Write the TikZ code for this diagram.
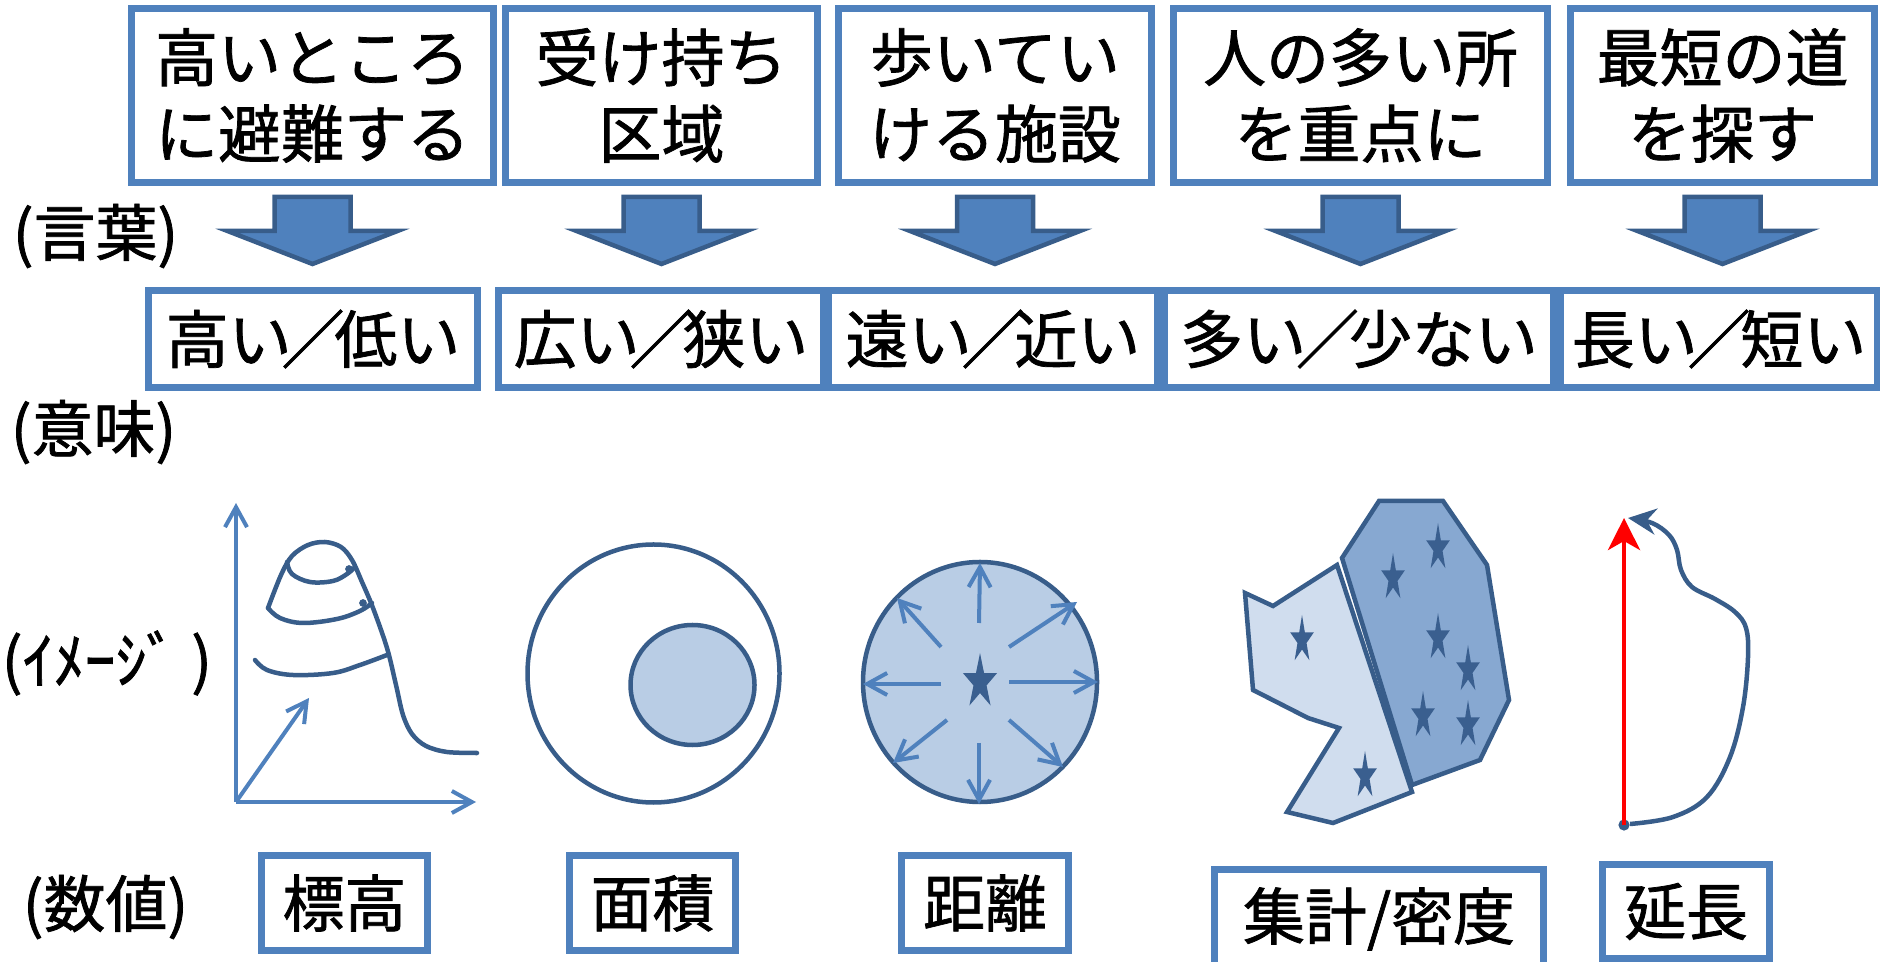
\documentclass[tikz,border=0pt]{standalone}
\usepackage{fontspec}
\setmainfont{Noto Sans CJK JP}[FakeBold=1.2]
\usetikzlibrary{arrows.meta,calc}

\definecolor{boxblue}{HTML}{4F81BD}
\definecolor{accent}{HTML}{4F81BD}
\definecolor{lineblue}{HTML}{385D8A}
\definecolor{paleblue}{HTML}{B9CDE5}
\definecolor{lightblue}{HTML}{D0DDEE}
\definecolor{midblue}{HTML}{87A8D1}
\definecolor{starblue}{HTML}{3A5F8F}

% a tall slash set a little tighter than the full-width one
\newcommand\tightslash{\kern-0.16em／\kern-0.16em}

\tikzset{
  wordbox/.style={draw=boxblue, line width=0.07cm, inner sep=0pt, align=center,
    font=\fontsize{17.9pt}{21.7pt}\selectfont},
  meanbox/.style={draw=boxblue, line width=0.07cm, inner sep=0pt,
    minimum height=0.96cm, font=\fontsize{17.9pt}{20pt}\selectfont},
  valbox/.style={draw=boxblue, line width=0.07cm, inner sep=0pt,
    minimum height=0.94cm, font=\fontsize{17.6pt}{20pt}\selectfont},
  rowlabel/.style={anchor=west, inner sep=0pt,
    font=\fontsize{17.6pt}{20pt}\selectfont},
  barb/.style={-{Straight Barb[length=0.2cm,width=0.22cm]}},
  axis/.style={accent, line width=0.04cm, barb},
  ray/.style={accent, line width=0.04cm, barb},
  ridge/.style={lineblue, line width=0.045cm, line cap=round, line join=round},
  outline/.style={draw=lineblue, line width=0.045cm},
  pics/downarrow/.style={code={
    \filldraw[fill=accent, draw=lineblue, line width=0.045cm, line join=miter]
      (-38,197) -- (38,197) -- (38,231) -- (85,231) -- (0,264)
      -- (-85,231) -- (-38,231) -- cycle;
  }},
  pics/starmark/.style 2 args={code={
    \fill[starblue, xscale=#2]
      (90:#1) -- (126:0.382*#1) -- (162:#1) -- (198:0.382*#1) -- (234:#1)
      -- (270:0.382*#1) -- (306:#1) -- (342:0.382*#1) -- (18:#1)
      -- (54:0.382*#1) -- cycle;
  }},
}

\begin{document}
\begin{tikzpicture}[x=0.01cm, y=-0.01cm]
\useasboundingbox (0,0) rectangle (1880,962);
\coordinate (top) at (0,0);

% ---- words ----
\node[wordbox, minimum width=3.61cm, minimum height=1.73cm] (t1) at (312.5,95.5) {高いところ\\に避難する};
\node[wordbox, minimum width=3.11cm, minimum height=1.73cm] (t2) at (661.5,95.5) {受け持ち\\区域};
\node[wordbox, minimum width=3.12cm, minimum height=1.73cm] (t3) at (995,95.5) {歩いてい\\ける施設};
\node[wordbox, minimum width=3.73cm, minimum height=1.73cm] (t4) at (1360.5,95.5) {人の多い所\\を重点に};
\node[wordbox, minimum width=3.03cm, minimum height=1.73cm] (t5) at (1722.5,95.5) {最短の道\\を探す};

% ---- block arrows from words to meanings ----
\foreach \b in {t1,t2,t3,t4,t5}
  \pic at (\b.center |- top) {downarrow};

% ---- meanings ----
\node[meanbox, minimum width=3.28cm] (m1) at (313,339) {高い\tightslash 低い};
\node[meanbox, minimum width=3.24cm] (m2) at (661,339) {広い\tightslash 狭い};
\node[meanbox, minimum width=3.28cm] (m3) at (993,339) {遠い\tightslash 近い};
\node[meanbox, minimum width=3.88cm] (m4) at (1359,339) {多い\tightslash 少ない};
\node[meanbox, minimum width=3.16cm] (m5) at (1719,339) {長い\tightslash 短い};

% ---- row labels ----
\node[rowlabel] (lw) at (12,236) {(言葉)};
\node[rowlabel] (lm) at (10,432) {(意味)};
\node[rowlabel] (li) at (1,663) {(ｲﾒｰｼﾞ )};
\node[rowlabel] (lv) at (22,907) {(数値)};

% ---- elevation ----
\coordinate (o) at (236,802);
\coordinate (ytop) at (236,503);
\coordinate (xend) at (476,802);
\coordinate (zend) at (309,698);
\draw[axis] (o) -- (ytop);
\draw[axis] (o) -- (xend);
\draw[axis] (o) -- (zend);
\draw[ridge] plot[smooth, tension=0.55] coordinates {
  (268,608) (281,575) (292,556) (308,545) (325,542) (341,547) (352,560)
  (362,582) (373,608) (387,648) (396,685) (403,715) (412,734) (426,746)
  (447,752) (477,753)};
\draw[ridge] plot[smooth, tension=0.6] coordinates {
  (287,562) (292,574) (310,582) (333,581) (347,574) (355,567)};
\draw[ridge] plot[smooth, tension=0.6] coordinates {
  (268,608) (280,618) (303,623) (337,619) (360,611) (372,603)};
\draw[ridge] plot[smooth, tension=0.6] coordinates {
  (255,660) (267,670) (293,675) (333,673) (360,665) (387,655)};
\fill[lineblue] (349,569) circle (1.1pt);
\fill[lineblue] (363,603) circle (1.1pt);

% ---- area ----
\draw[outline, fill=white] (653.5,673.5) ellipse [x radius=126, y radius=129];
\draw[outline, fill=paleblue] (692.5,685) ellipse [x radius=62, y radius=60];

% ---- distance ----
\coordinate (dc) at (980,682);
\draw[outline, fill=paleblue] (dc) ellipse [x radius=117, y radius=120];
\draw[ray] (979,623) -- (980,563);
\draw[ray] (1009,682) -- (1098,682);
\draw[ray] (979,743) -- (979,804);
\draw[ray] (941,684) -- (863,684);
\draw[ray] (1009,647) -- (1077,602);
\draw[ray] (1009,720) -- (1063,767);
\draw[ray] (941,647) -- (897,598);
\draw[ray] (947,720) -- (893,763);
\pic at (dc) {starmark={0.29cm}{0.62}};

% ---- count / density ----
\draw[outline, fill=lightblue, line join=miter]
  (1245,593) -- (1273,606) -- (1337,565) -- (1412,792) -- (1333,823)
  -- (1287,812) -- (1339,728) -- (1308,718) -- (1253,690) -- cycle;
\draw[outline, fill=midblue, line join=miter]
  (1342,558) -- (1379,501) -- (1443,501) -- (1487,565) -- (1509,700)
  -- (1480,760) -- (1412,785) -- cycle;
\foreach \p in {(1438,548),(1393,578),(1438,638),(1468,670),(1423,716),(1468,725),(1302,640),(1365,776)}
  \pic at \p {starmark={0.25cm}{0.5}};

% ---- length ----
\coordinate (lenbase) at (1624,825);
\coordinate (lentop) at (1624,518);
\fill[lineblue] (lenbase) circle (1.6pt);
\draw[red, line width=0.047cm, -{Stealth[length=0.32cm,width=0.32cm,inset=0.09cm]}] (lenbase) -- (lentop);
\draw[lineblue, line width=0.045cm, -{Stealth[length=0.28cm,width=0.26cm]}]
  plot[smooth, tension=0.6] coordinates {
  (1630,824) (1673,817) (1707,797) (1730,757) (1743,707) (1748,657) (1746,628)
  (1735,612) (1715,599) (1692,587) (1681,570) (1677,550) (1669,535) (1652,523)
  (1628,518)};

% ---- values ----
\node[valbox, minimum width=1.65cm] (v1) at (344.5,903) {標高};
\node[valbox, minimum width=1.65cm] (v2) at (652.5,903) {面積};
\node[valbox, minimum width=1.66cm] (v3) at (985,903) {距離};
\node[valbox, minimum width=3.28cm, minimum height=0.98cm] (v4) at (1379,919) {集計/密度};
\node[valbox, minimum width=1.66cm] (v5) at (1686,911.5) {延長};
\end{tikzpicture}
\end{document}
